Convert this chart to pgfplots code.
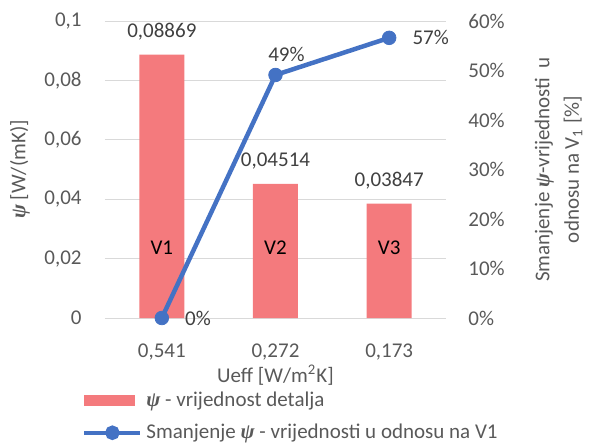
\documentclass[border=0pt]{standalone}
\usepackage{fontspec}
\setmainfont{Carlito}
\newfontfamily\psifont{Liberation Serif}
\usepackage{pgfplots}
\pgfplotsset{compat=1.18}

\definecolor{barred}{RGB}{244,122,125}
\definecolor{lineblue}{RGB}{68,114,196}
\definecolor{txtgray}{RGB}{89,89,89}
\definecolor{lblgray}{RGB}{64,64,64}
\definecolor{gridgray}{RGB}{217,217,217}

\newcommand{\bpsi}{{\psifont\bfseries\itshape ψ}}

\begin{document}
\fontsize{10.5}{12.8}\selectfont
\begin{tikzpicture}[font=\fontsize{10.5}{12.8}\selectfont]
\path[use as bounding box] (-52.5pt,-64pt) rectangle (242.5pt,159pt);

% bars, left axis
\begin{axis}[
  scale only axis, width=170.5pt, height=148.5pt,
  xmin=-0.5, xmax=2.5, ymin=0, ymax=0.1,
  axis x line*=bottom, axis y line*=left,
  x axis line style={draw=gridgray, line width=0.5pt, -},
  y axis line style={draw=none},
  xtick={0,1,2}, xticklabels={{0,541},{0,272},{0,173}},
  xtick style={draw=none},
  extra x ticks={-0.5,0.5,1.5,2.5}, extra x tick labels={},
  extra x tick style={tick style={draw=gridgray, line width=0.5pt}, major tick length=3.5pt, tick align=outside},
  ytick={0,0.02,0.04,0.06,0.08,0.1},
  yticklabels={0,{0,02},{0,04},{0,06},{0,08},{0,1}},
  ytick style={draw=none},
  ymajorgrids, grid style={draw=gridgray, line width=0.5pt},
  tick label style={text=txtgray},
  xticklabel style={inner sep=0pt, anchor=north, yshift=-12.5pt},
  yticklabel style={inner sep=0pt, anchor=east, xshift=-11.5pt},
  xlabel={Ueff [W/m\textsuperscript{2}K]},
  xlabel style={text=txtgray, at={(axis description cs:0.5,-0.2155)}, anchor=base},
  ylabel={\bpsi\ [W/(mK)]},
  ylabel style={text=txtgray, at={(axis description cs:-0.2493,0.5)}, anchor=center},
  clip=false,
]
\addplot[ybar, bar width=22.5pt, fill=barred, draw=none,
  nodes near coords, point meta=explicit symbolic,
  every node near coord/.append style={anchor=base, yshift=8.5pt, inner sep=0pt, text=lblgray}]
  table[meta=lbl, row sep=\\] {
  x y lbl\\
  0 0.08869 0,08869\\
  1 0.04514 0,04514\\
  2 0.03847 0,03847\\
};
\addplot[draw=none, nodes near coords, point meta=explicit symbolic,
  every node near coord/.append style={anchor=center, inner sep=0pt, text=black}]
  table[meta=lbl, row sep=\\] {
  x y lbl\\
  0 0.0236 V1\\
  1 0.0236 V2\\
  2 0.0236 V3\\
};
\end{axis}

% line, right axis
\begin{axis}[
  scale only axis, width=170.5pt, height=148.5pt,
  xmin=-0.5, xmax=2.5, ymin=0, ymax=0.6,
  axis y line*=right, axis x line=none, xtick=\empty,
  y axis line style={draw=none},
  ytick={0,0.1,0.2,0.3,0.4,0.5,0.6},
  yticklabels={0\%,10\%,20\%,30\%,40\%,50\%,60\%},
  ytick style={draw=none},
  yticklabel style={inner sep=0pt, anchor=west, xshift=11pt, text=txtgray},
  ylabel={Smanjenje \bpsi-vrijednosti\ \ u\\[2pt] odnosu na V\textsubscript{1} [\%]},
  ylabel style={text=txtgray, align=center, at={(axis description cs:1.33,0.5)}, anchor=center},
  clip=false,
  legend style={draw=none, fill=none, inner sep=0pt, at={(axis description cs:-0.0674,-0.247)}, anchor=north west,
    row sep=7.2pt, column sep=2pt, nodes={inner sep=0pt, text=txtgray}},
  legend cell align=left,
]
\addlegendimage{legend image code/.code={\fill[barred] (0pt,-2.6pt) rectangle (25pt,2.6pt);}}
\addlegendentry{\bpsi\ - vrijednost detalja}
\addplot[lineblue, line width=2.25pt, mark=*, mark size=3.4pt, mark options={solid, line width=0.4pt},
  legend image code/.code={\draw[lineblue, line width=2pt] (0pt,0pt) -- (28pt,0pt); \fill[lineblue] (14pt,0pt) circle (2.5pt);}]
  coordinates {(0,0) (1,0.491) (2,0.566)};
\addlegendentry{Smanjenje \bpsi\ - vrijednosti u odnosu na V1}
\addplot[forget plot, draw=none, nodes near coords, point meta=explicit symbolic,
  every node near coord/.append style={anchor=west, xshift=11.5pt, inner sep=0pt, text=lblgray}]
  coordinates {(0,0) [0\%] (2,0.566) [57\%]};
\addplot[forget plot, draw=none, nodes near coords, point meta=explicit symbolic,
  every node near coord/.append style={anchor=base, xshift=5.5pt, yshift=6.5pt, inner sep=0pt, text=lblgray}]
  coordinates {(1,0.491) [49\%]};
\end{axis}
\end{tikzpicture}
\end{document}
